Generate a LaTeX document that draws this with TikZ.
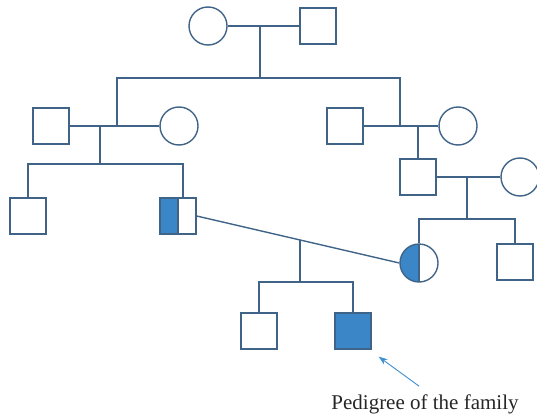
\documentclass[tikz,border=0pt]{standalone}
\usepackage{fontspec}
\setmainfont{Liberation Serif}
\usepackage{xcolor}
\usepackage{tikz}
\usetikzlibrary{arrows.meta, calc}

\definecolor{pedline}{RGB}{64,100,135}
\definecolor{pedfill}{RGB}{58,134,199}
\definecolor{pointer}{RGB}{62,142,208}

\begin{document}
\begin{tikzpicture}[x=1pt, y=-1pt,
		link/.style={draw=pedline, line width=1.4pt},
		male/.style={draw=pedline, line width=1.4pt, fill=white, minimum size=36pt, inner sep=0pt},
		female/.style={male, circle, minimum size=38pt},
		affected/.style={fill=pedfill},
		carrier/.style={path picture={
				\fill[pedfill] (path picture bounding box.south west) rectangle (path picture bounding box.north);
				\draw[pedline, line width=1.4pt] (path picture bounding box.south) -- (path picture bounding box.north);}},
		arrowline/.style={draw=pointer, line width=0.9pt, -{Stealth[length=9pt, width=6.5pt]}}]
		\useasboundingbox (0,0) rectangle (537,417);
		
		% Generation I
		\node[female] (I1) at (208,26) {};
		\node[male] (I2) at (318,26) {};
		
		% Generation II
		\node[male] (II1) at (51,126) {};
		\node[female] (II2) at (179,126) {};
		\node[male] (II3) at (345,126) {};
		\node[female] (II4) at (458,126) {};
		
		% Generation III
		\node[male] (III1) at (28,216) {};
		\node[male, carrier] (III2) at (178,216) {};
		\node[male] (III3) at (418,177) {};
		\node[female] (III4) at (520,177) {};
		
		% Generation IV
		\node[female, carrier] (IV1) at (419,263) {};
		\node[male] (IV2) at (515,262) {};
		
		% Generation V
		\node[male] (V1) at (259,331) {};
		\node[male, affected] (V2) at (353,331) {};
		
		% Marriage lines and junctions
		\draw[link] (I1) -- (I2);
		\coordinate (m1) at (260,26);
		\draw[link] (II1) -- (II2);
		\coordinate (m2) at (100,126);
		\coordinate (c2) at (117,126);
		\draw[link] (II3) -- (II4);
		\coordinate (m3) at (418,126);
		\coordinate (c3) at (400,126);
		\draw[link] (III3) -- (III4);
		\coordinate (m4) at (467,177);
		\draw[link] (III2.east) -- (IV1.west);
		\coordinate (m5) at ($(III2.east)!0.51!(IV1.west)$);
		
		% Sibships
		\draw[link] (m1) -- ++(0,52) coordinate (s1);
		\draw[link] (c2) |- (s1) -| (c3);
		
		\draw[link] (m2) -- ++(0,38) coordinate (s2);
		\coordinate (t2) at ($(III2.north)+(5,0)$);
		\draw[link] (III1.north) |- (s2) -| (t2);
		
		\draw[link] (m3) -- (III3.north);
		
		\draw[link] (m4) -- ++(0,42) coordinate (s4);
		\draw[link] (IV1.north) |- (s4) -| (IV2.north);
		
		\draw[link] (m5) -- ++(0,42) coordinate (s5);
		\draw[link] (V1.north) |- (s5) -| (V2.north);
		
		% Label
		\node[inner sep=0pt, font=\fontsize{21}{24}\selectfont, text=black!85] (lbl) at (425,404) {Pedigree of the family};
		\draw[arrowline] ([xshift=-6pt, yshift=8pt]lbl.north) -- ([xshift=7pt, yshift=-7pt]V2.south east);
	\end{tikzpicture}
\end{document}
